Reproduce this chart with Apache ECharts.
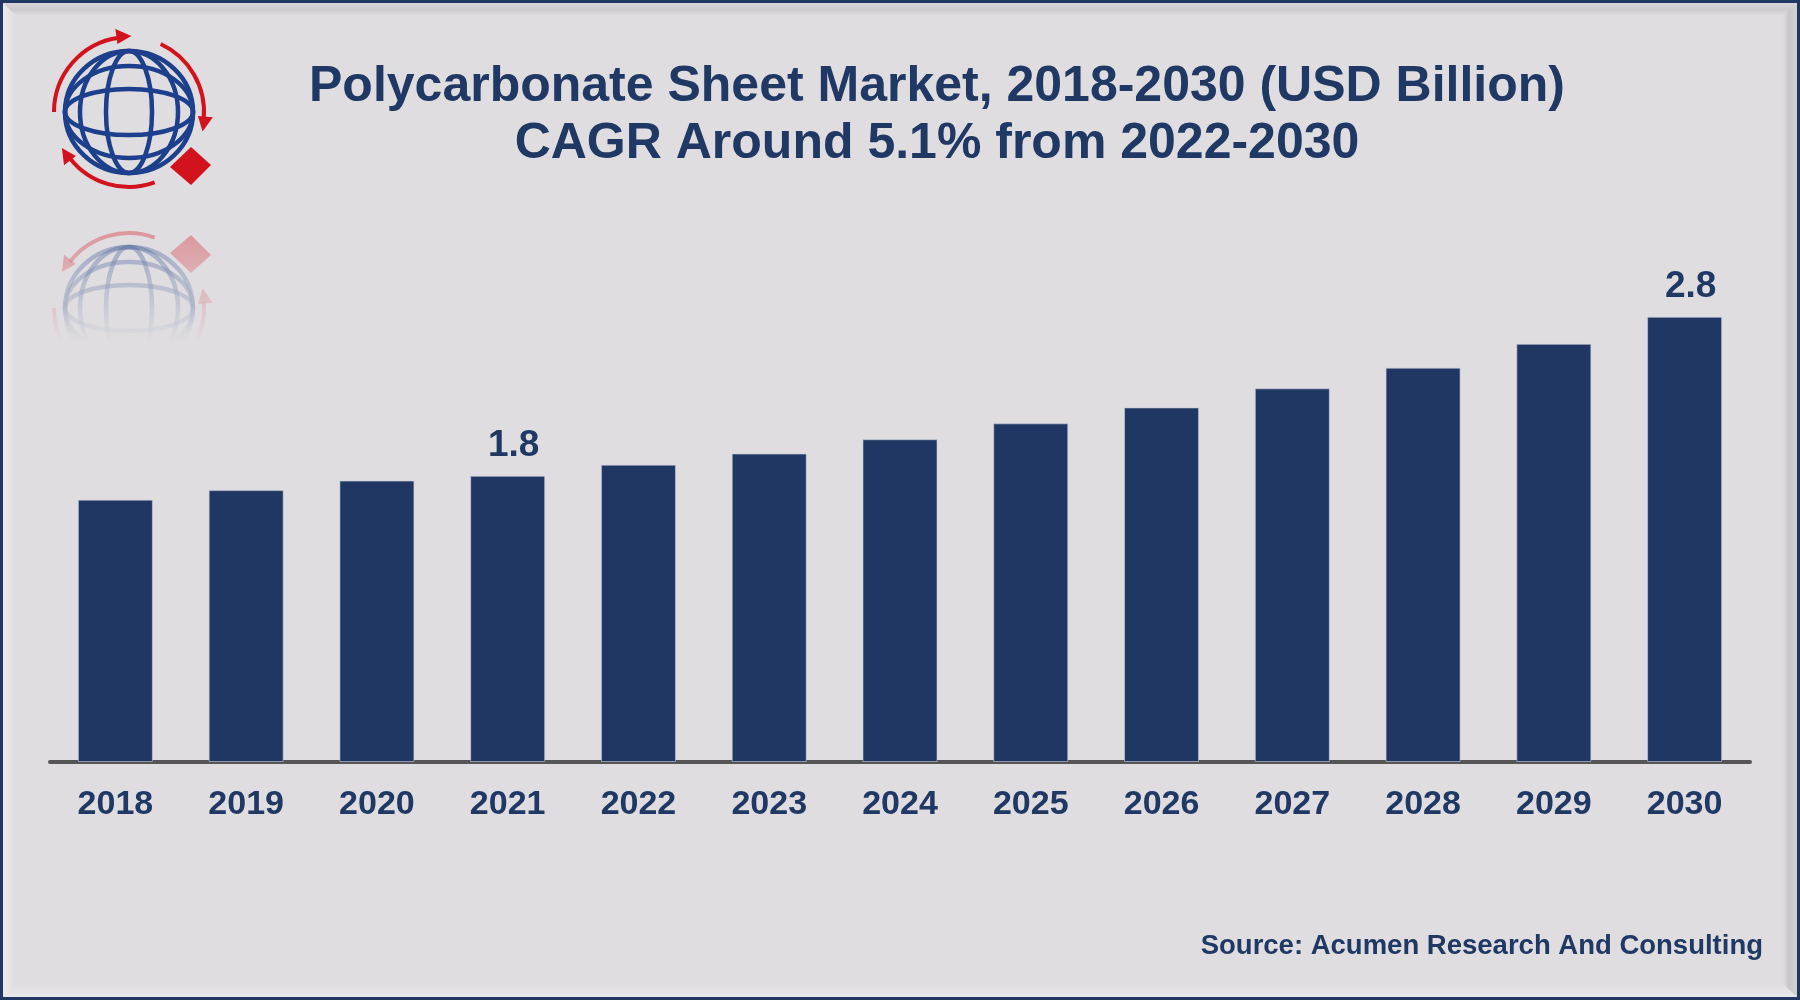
<!DOCTYPE html>
<html>
<head>
<meta charset="utf-8">
<script src="https://cdn.jsdelivr.net/npm/echarts/dist/echarts.min.js"></script>
<style>
html, body { margin: 0; padding: 0; background: #203764; }
#main { width: 1800px; height: 1000px; }
</style>
</head>
<body>
<div id="main"></div>
<script>
// chart data
var years = ['2018', '2019', '2020', '2021', '2022', '2023', '2024', '2025', '2026', '2027', '2028', '2029', '2030'];
var marketSize = [1.65, 1.71, 1.77, 1.80, 1.87, 1.94, 2.03, 2.13, 2.23, 2.35, 2.48, 2.63, 2.80];
var labelYears = ['2021', '2030'];
var titleLines = ['Polycarbonate Sheet Market, 2018-2030 (USD Billion)', 'CAGR Around 5.1% from 2022-2030'];
var sourceText = 'Source: Acumen Research And Consulting';

var NAVY = '#1f3864';
var PANEL = '#dfdde0';
var FONT = '"Liberation Sans", Arial, sans-serif';

// logo: globe + red arrows, built at (cx, cy)
function arrowHead(cx, cy, r, deg, color) {
    var a = deg * Math.PI / 180;
    var px = cx + r * Math.cos(a), py = cy + r * Math.sin(a);
    var tx = -Math.sin(a), ty = Math.cos(a);
    var nx = Math.cos(a), ny = Math.sin(a);
    return {
        type: 'polygon',
        shape: { points: [[px + tx * 13, py + ty * 13], [px + nx * 9 - tx * 2, py + ny * 9 - ty * 2], [px - nx * 6 - tx * 2, py - ny * 6 - ty * 2]] },
        style: { fill: color }
    };
}

function buildLogo(cx, cy, blue, red) {
    var r = 75;
    var line = { stroke: blue, lineWidth: 4.5, fill: null };
    var arcStyle = { stroke: red, lineWidth: 4, fill: null };
    return [
        { type: 'ellipse', shape: { cx: cx, cy: cy, rx: 64, ry: 61 }, style: line },
        { type: 'ellipse', shape: { cx: cx, cy: cy, rx: 23, ry: 61 }, style: line },
        { type: 'ellipse', shape: { cx: cx, cy: cy, rx: 49, ry: 61 }, style: line },
        { type: 'ellipse', shape: { cx: cx, cy: cy, rx: 64, ry: 23 }, style: line },
        { type: 'ellipse', shape: { cx: cx, cy: cy, rx: 64, ry: 46 }, style: line },
        { type: 'arc', shape: { cx: cx, cy: cy, r: r, startAngle: Math.PI, endAngle: 262 * Math.PI / 180, clockwise: true }, style: arcStyle },
        { type: 'arc', shape: { cx: cx, cy: cy, r: r, startAngle: 295 * Math.PI / 180, endAngle: 365 * Math.PI / 180, clockwise: true }, style: arcStyle },
        { type: 'arc', shape: { cx: cx, cy: cy, r: r, startAngle: 70 * Math.PI / 180, endAngle: 142 * Math.PI / 180, clockwise: true }, style: arcStyle },
        arrowHead(cx, cy, r, 262, red),
        arrowHead(cx, cy, r, 365, red),
        arrowHead(cx, cy, r, 142, red),
        { type: 'polygon', shape: { points: [[cx + 41, cy + 55], [cx + 62, cy + 35], [cx + 82, cy + 53], [cx + 62, cy + 73]] }, style: { fill: red } }
    ];
}

var graphics = [
    // panel with bevel
    { type: 'rect', shape: { x: 3, y: 3, width: 1794, height: 994 }, style: { fill: PANEL }, z2: 0, silent: true },
    { type: 'polygon', shape: { points: [[3, 3], [1797, 3], [1783, 16], [16, 16]] },
      style: { fill: new echarts.graphic.LinearGradient(0, 0, 0, 1, [{ offset: 0, color: '#d8d6d8' }, { offset: 0.5, color: '#cdcbcd' }, { offset: 1, color: PANEL }]) }, z2: 1, silent: true },
    { type: 'polygon', shape: { points: [[1797, 3], [1797, 997], [1783, 984], [1783, 16]] },
      style: { fill: new echarts.graphic.LinearGradient(0, 0, 1, 0, [{ offset: 0, color: PANEL }, { offset: 0.4, color: '#c8c7c8' }, { offset: 1, color: '#d2d1d2' }]) }, z2: 1, silent: true },
    { type: 'polygon', shape: { points: [[3, 3], [16, 16], [16, 984], [3, 997]] },
      style: { fill: new echarts.graphic.LinearGradient(0, 0, 1, 0, [{ offset: 0, color: '#ebeaed' }, { offset: 1, color: PANEL }]) }, z2: 1, silent: true },
    { type: 'polygon', shape: { points: [[3, 997], [16, 984], [1783, 984], [1797, 997]] },
      style: { fill: new echarts.graphic.LinearGradient(0, 0, 0, 1, [{ offset: 0, color: PANEL }, { offset: 1, color: '#e8e7ea' }]) }, z2: 1, silent: true },
    // reflected logo, faded out by a gradient cover
    { type: 'group', scaleY: -1, originX: 0, originY: 210, silent: true,
      children: buildLogo(129, 112, 'rgba(40,70,140,0.45)', 'rgba(215,30,40,0.45)').map(function (c) { c.z2 = 2; return c; }) },
    { type: 'rect', shape: { x: 20, y: 212, width: 220, height: 210 }, silent: true, z2: 3,
      style: { fill: new echarts.graphic.LinearGradient(0, 0, 0, 1, [{ offset: 0, color: 'rgba(223,221,224,0.05)' }, { offset: 0.35, color: 'rgba(223,221,224,0.55)' }, { offset: 0.62, color: 'rgba(223,221,224,1)' }, { offset: 1, color: 'rgba(223,221,224,1)' }]) } },
    // logo
    { type: 'group', silent: true, children: buildLogo(129, 112, '#1d3f8c', '#d2121c').map(function (c) { c.z2 = 4; return c; }) },
    // title
    { type: 'text', x: 937, y: 87, z2: 5, style: { text: titleLines[0], x: 0, y: 0, align: 'center', verticalAlign: 'middle', fill: NAVY, font: 'bold 50px ' + FONT } },
    { type: 'text', x: 937, y: 144, z2: 5, style: { text: titleLines[1], x: 0, y: 0, align: 'center', verticalAlign: 'middle', fill: NAVY, font: 'bold 50px ' + FONT } },
    // source
    { type: 'text', x: 1763, y: 946, z2: 5, style: { text: sourceText, x: 0, y: 0, align: 'right', verticalAlign: 'middle', fill: NAVY, font: 'bold 27.5px ' + FONT } }
];

var chart = echarts.init(document.getElementById('main'));
chart.setOption({
    backgroundColor: '#203764',
    animation: false,
    textStyle: { fontFamily: FONT },
    grid: { left: 50, right: 50, top: 285, bottom: 238 },
    xAxis: {
        type: 'category',
        data: years,
        axisLine: { lineStyle: { color: '#555555', width: 4 } },
        axisTick: { show: false },
        axisLabel: { color: NAVY, fontSize: 34, fontWeight: 'bold', margin: 26 }
    },
    yAxis: { type: 'value', min: 0, max: 3, show: false, splitLine: { show: false } },
    graphic: graphics,
    series: [{
        type: 'bar',
        barWidth: 75,
        itemStyle: { color: '#213763', borderColor: 'rgba(200,205,220,0.6)', borderWidth: 1 },
        label: {
            position: 'top',
            distance: 12,
            offset: [6, 0],
            color: NAVY,
            fontSize: 37,
            fontWeight: 'bold',
            formatter: function (p) { return p.value.toFixed(1); }
        },
        data: marketSize.map(function (v, i) {
            return { value: v, label: { show: labelYears.indexOf(years[i]) >= 0 } };
        })
    }]
});
</script>
</body>
</html>
